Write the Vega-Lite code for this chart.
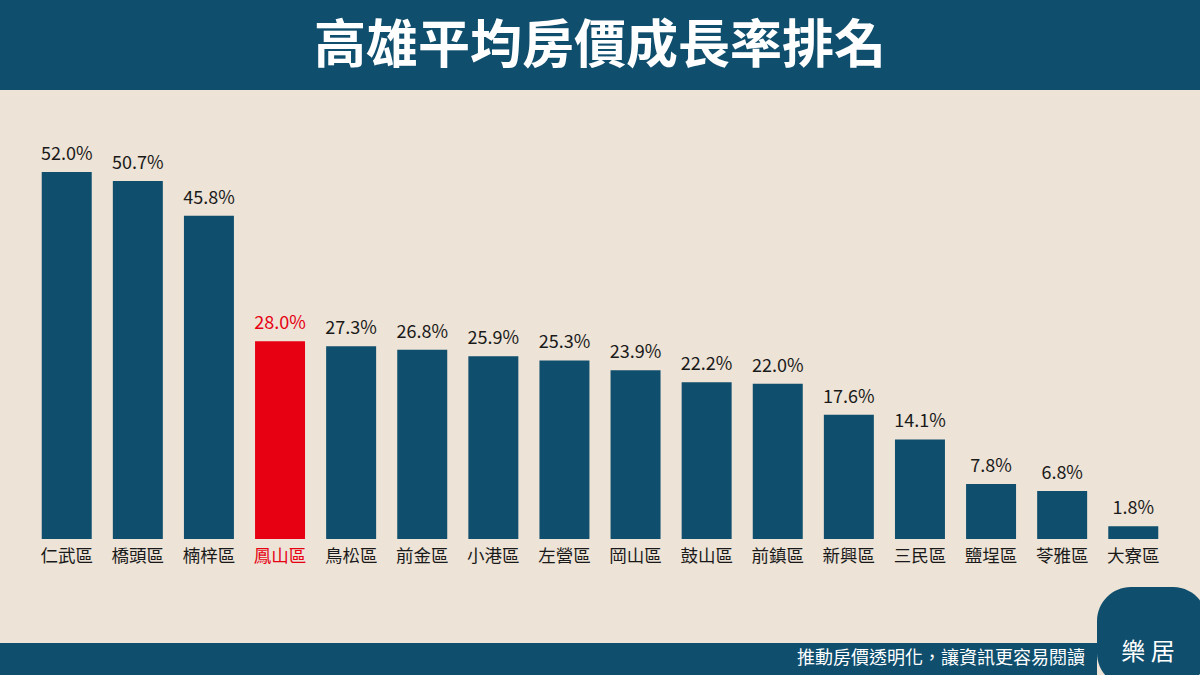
{
  "$schema": "https://vega.github.io/schema/vega-lite/v6.json",
  "background": "#ede3d6",
  "padding": 0,
  "spacing": 0,
  "config": {
    "view": {"stroke": null},
    "font": "Noto Sans CJK TC"
  },
  "vconcat": [
    {
      "width": 1200,
      "height": 90,
      "view": {"fill": "#0f4e6d", "stroke": null},
      "data": {"values": [{"title": "高雄平均房價成長率排名"}]},
      "mark": {"type": "text", "color": "#ffffff", "fontSize": 52, "fontWeight": "bold", "font": "Noto Sans CJK TC", "baseline": "middle", "dy": 2},
      "encoding": {"text": {"field": "title"}}
    },
    {
      "vconcat": [
        {
          "width": 1200,
          "height": 449,
          "data": {
            "values": [
              {"district": "仁武區", "rate": 0.520, "group": "其他"},
              {"district": "橋頭區", "rate": 0.507, "group": "其他"},
              {"district": "楠梓區", "rate": 0.458, "group": "其他"},
              {"district": "鳳山區", "rate": 0.280, "group": "鳳山"},
              {"district": "鳥松區", "rate": 0.273, "group": "其他"},
              {"district": "前金區", "rate": 0.268, "group": "其他"},
              {"district": "小港區", "rate": 0.259, "group": "其他"},
              {"district": "左營區", "rate": 0.253, "group": "其他"},
              {"district": "岡山區", "rate": 0.239, "group": "其他"},
              {"district": "鼓山區", "rate": 0.222, "group": "其他"},
              {"district": "前鎮區", "rate": 0.220, "group": "其他"},
              {"district": "新興區", "rate": 0.176, "group": "其他"},
              {"district": "三民區", "rate": 0.141, "group": "其他"},
              {"district": "鹽埕區", "rate": 0.078, "group": "其他"},
              {"district": "苓雅區", "rate": 0.068, "group": "其他"},
              {"district": "大寮區", "rate": 0.018, "group": "其他"}
            ]
          },
          "encoding": {
            "x": {
              "field": "district",
              "type": "nominal",
              "sort": null,
              "scale": {"paddingInner": 0.297, "paddingOuter": 0.587},
              "axis": {
                "title": null,
                "labelAngle": 0,
                "domain": false,
                "ticks": false,
                "labelPadding": 8,
                "labelFontSize": 17.5,
                "labelFont": "Noto Sans CJK TC",
                "labelColor": {"condition": {"test": "datum.value === '鳳山區'", "value": "#e60012"}, "value": "#1a1a1a"}
              }
            },
            "y": {
              "field": "rate",
              "type": "quantitative",
              "scale": {"domain": [0, 0.636], "nice": false},
              "axis": null
            },
            "color": {
              "field": "group",
              "type": "nominal",
              "scale": {"domain": ["鳳山", "其他"], "range": ["#e60012", "#0f4e6d"]},
              "legend": null
            }
          },
          "layer": [
            {"mark": {"type": "bar"}},
            {
              "mark": {"type": "text", "baseline": "bottom", "dy": -8, "fontSize": 18, "font": "Noto Sans CJK TC"},
              "encoding": {
                "text": {"field": "rate", "type": "quantitative", "format": ".1%"},
                "color": {
                  "field": "group",
                  "type": "nominal",
                  "scale": {"domain": ["鳳山", "其他"], "range": ["#e60012", "#1a1a1a"]},
                  "legend": null
                }
              }
            }
          ],
          "resolve": {"scale": {"color": "independent"}}
        },
        {
          "hconcat": [
            {
              "vconcat": [
                {
                  "width": 1097,
                  "height": 78,
                  "data": {"values": [{"t": ""}]},
                  "mark": {"type": "text"},
                  "encoding": {"text": {"field": "t"}}
                },
                {
                  "width": 1097,
                  "height": 36,
                  "view": {"fill": "#0f4e6d", "stroke": null},
                  "data": {"values": [{"slogan": "推動房價透明化，讓資訊更容易閱讀", "pos": 1}]},
                  "mark": {"type": "text", "color": "#ffffff", "fontSize": 18, "align": "right", "baseline": "middle", "dx": -12, "dy": -2, "font": "Noto Sans CJK TC"},
                  "encoding": {
                    "text": {"field": "slogan"},
                    "x": {"field": "pos", "type": "quantitative", "scale": {"domain": [0, 1]}, "axis": null}
                  }
                }
              ],
              "spacing": 0,
              "align": "none"
            },
            {
              "vconcat": [
                {
                  "width": 110,
                  "height": 22,
                  "data": {"values": [{"t": ""}]},
                  "mark": {"type": "text"},
                  "encoding": {"text": {"field": "t"}}
                },
                {
                  "width": 110,
                  "height": 100,
                  "view": {"fill": "#0f4e6d", "stroke": null, "cornerRadius": 34},
                  "data": {"values": [{"logo": "樂 居"}]},
                  "mark": {"type": "text", "color": "#ffffff", "fontSize": 24, "baseline": "middle", "dx": -4, "dy": 16, "font": "Noto Sans CJK TC"},
                  "encoding": {"text": {"field": "logo"}}
                }
              ],
              "spacing": 0,
              "align": "none"
            }
          ],
          "spacing": 0,
          "align": "none"
        }
      ],
      "spacing": 0,
      "align": "none"
    }
  ],
  "align": "none"
}
